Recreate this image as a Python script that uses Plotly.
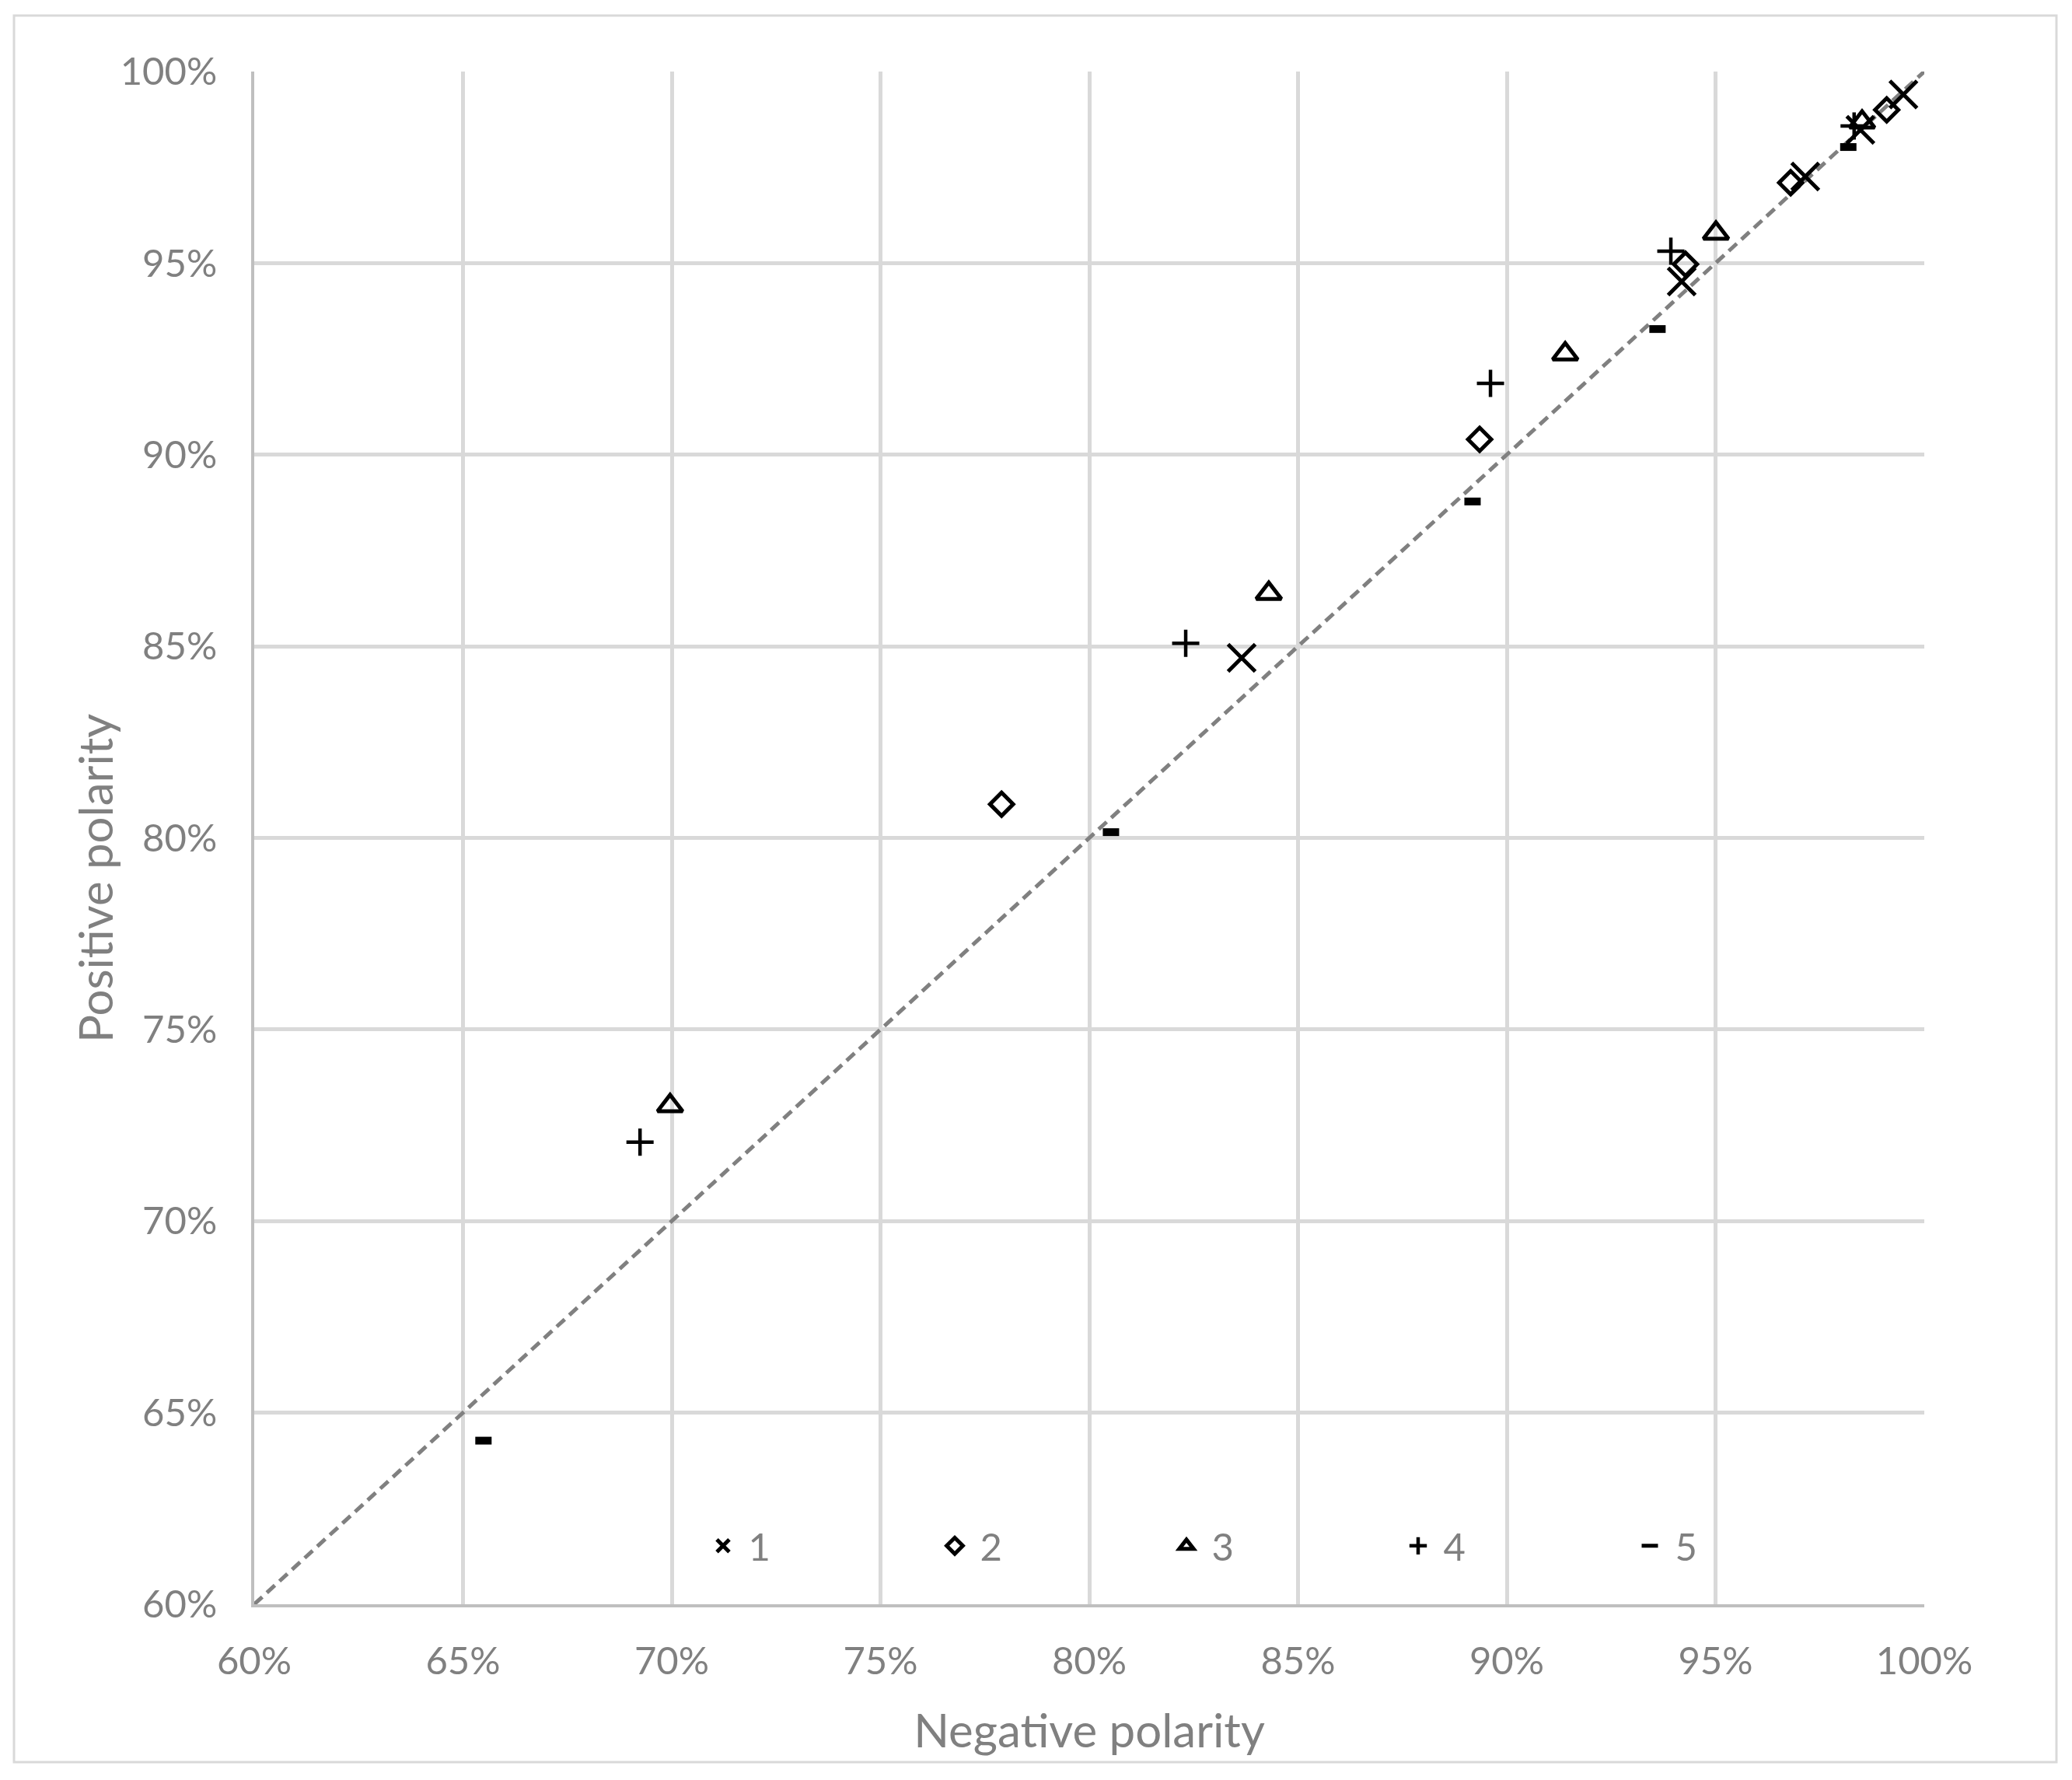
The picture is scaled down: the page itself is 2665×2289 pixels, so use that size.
import plotly.graph_objects as go

# ---- data (percent) ----
series_names = ["1", "2", "3", "4", "5"]
neg_1 = [83.65, 94.19, 97.15, 98.47, 99.50]
pos_1 = [84.70, 94.52, 97.26, 98.48, 99.40]
neg_2 = [77.90, 89.35, 94.28, 96.80, 99.10]
pos_2 = [80.88, 90.40, 94.97, 97.10, 99.00]
neg_3 = [69.96, 84.30, 91.40, 95.01, 98.51]
pos_3 = [73.01, 86.38, 92.63, 95.78, 98.68]
neg_4 = [69.24, 82.31, 89.61, 93.93, 98.32]
pos_4 = [72.06, 85.08, 91.86, 95.31, 98.58]
neg_5 = [65.49, 80.52, 89.18, 93.61, 98.18]
pos_5 = [64.27, 80.15, 88.78, 93.28, 98.03]
ref_line = [60, 100]
tick_vals = [60, 65, 70, 75, 80, 85, 90, 95, 100]
tick_text = ["60%", "65%", "70%", "75%", "80%", "85%", "90%", "95%", "100%"]

W, H = 2649, 2273
L, T = 319, 84
PW, PH = 2148, 1971
R, B = W - L - PW, H - T - PH
FONT = "Lato"
GRAY = "#808080"

symbols = [
    dict(symbol="x-thin-open", size=35, line=dict(width=5, color="black")),
    dict(symbol="diamond-open", size=23, line=dict(width=5, color="black")),
    dict(symbol="triangle-up-open", size=28, line=dict(width=5, color="black")),
    dict(symbol="cross-thin-open", size=25, line=dict(width=4.5, color="black")),
    dict(symbol="line-ew-open", size=15, line=dict(width=10, color="black")),
]

fig = go.Figure()
fig.add_trace(go.Scatter(
    x=ref_line, y=ref_line, mode="lines", showlegend=False, hoverinfo="skip",
    line=dict(color=GRAY, width=5, dash="14px,8px"),
))

xs = [neg_1, neg_2, neg_3, neg_4, neg_5]
ys = [pos_1, pos_2, pos_3, pos_4, pos_5]
for name, x, y, m in zip(series_names, xs, ys, symbols):
    fig.add_trace(go.Scatter(
        x=x, y=y, mode="markers", name=" " + name,
        marker=dict(color="black", **m),
    ))

axis_common = dict(
    range=[60, 100], tickmode="array", tickvals=tick_vals, ticktext=tick_text,
    showgrid=True, gridcolor="#d9d9d9", gridwidth=5,
    showline=True, linecolor="#bfbfbf", linewidth=4,
    zeroline=False, ticks="",
    tickfont=dict(family=FONT, size=49, color=GRAY),
)

fig.update_layout(
    width=W, height=H,
    margin=dict(l=L, r=R, t=T, b=B, autoexpand=False),
    paper_bgcolor="white", plot_bgcolor="white",
    font=dict(family=FONT, color=GRAY),
    xaxis=dict(**axis_common, ticklabelstandoff=27,
               title=dict(text="Negative polarity", standoff=44,
                          font=dict(family=FONT, size=60, color=GRAY))),
    yaxis=dict(**axis_common, ticklabelstandoff=34, automargin=False),
    annotations=[dict(
        text="Positive polarity", textangle=-90, xref="paper", yref="paper",
        x=(114 - L) / PW, y=(T + PH - 1122) / PH, xanchor="center", yanchor="middle",
        showarrow=False, font=dict(family=FONT, size=60, color=GRAY),
    )],
    legend=dict(
        orientation="h", x=(922 - 20 - L) / PW, y=(T + PH - 1980) / PH,
        xanchor="left", yanchor="middle",
        entrywidth=253, entrywidthmode="pixels",
        font=dict(family=FONT, size=49, color=GRAY),
        bgcolor="rgba(0,0,0,0)",
    ),
    shapes=[dict(
        type="rect", xref="paper", yref="paper",
        x0=(10 - L) / PW, x1=(2637 - L) / PW,
        y0=(T + PH - 2258) / PH, y1=(T + PH - 12) / PH,
        line=dict(color="#d9d9d9", width=3), fillcolor="rgba(0,0,0,0)", layer="below",
    )],
    showlegend=True,
)

fig.write_html("out.html")
